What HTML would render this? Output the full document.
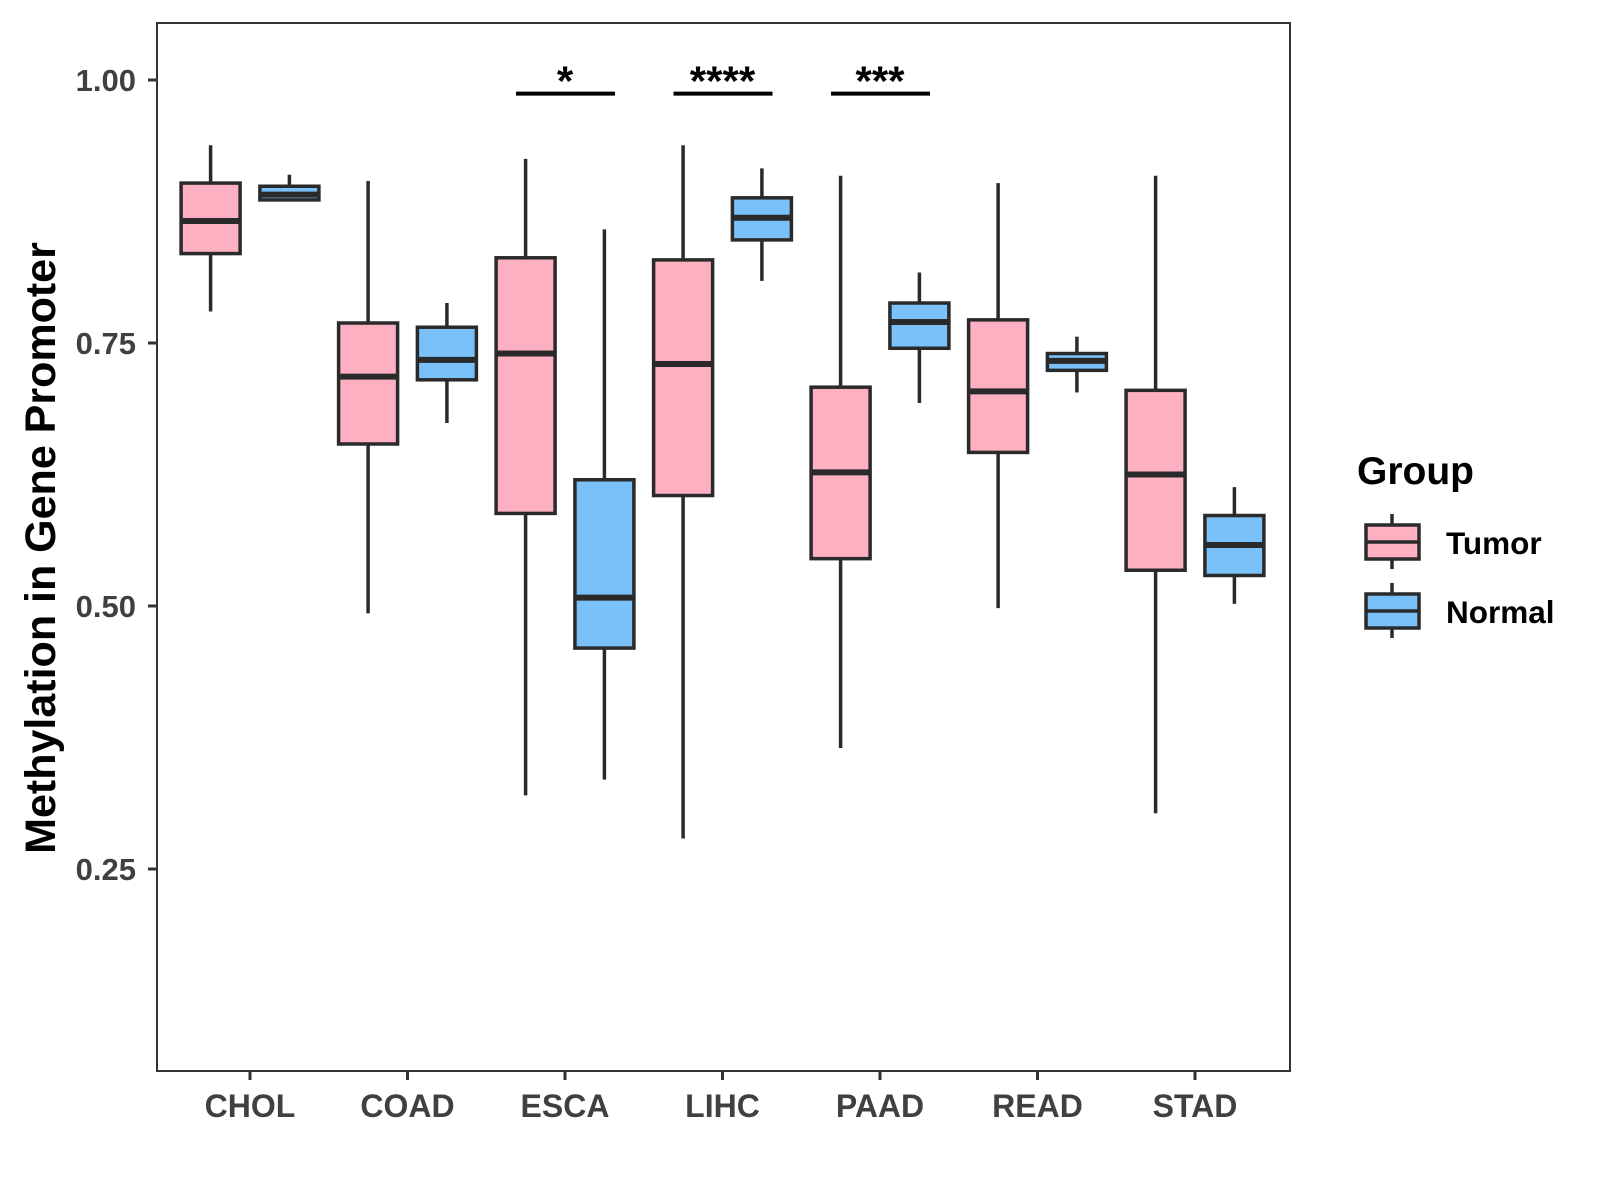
<!DOCTYPE html>
<html><head><meta charset="utf-8"><style>
html,body{margin:0;padding:0;background:#fff}
svg{display:block;font-family:"Liberation Sans",Arial,sans-serif}
</style></head><body>
<svg id="chart" width="1600" height="1200" viewBox="0 0 1600 1200" xmlns="http://www.w3.org/2000/svg">
<rect x="0" y="0" width="1600" height="1200" fill="#fff"/>
<g id="marks"></g>
<rect x="157" y="23" width="1133" height="1048" fill="none" stroke="#333" stroke-width="2"/>
<g id="axes"></g>
<text x="41" y="548" transform="rotate(-90 41 548)" text-anchor="middle" dominant-baseline="central" font-size="43" font-weight="bold" fill="#000">Methylation in Gene Promoter</text>
<g>
<text x="1357" y="484" font-size="39" font-weight="bold" fill="#000">Group</text>
<g>
<line x1="1392" y1="514" x2="1392" y2="569" stroke="#2a2a2a" stroke-width="3.5"/>
<rect x="1366" y="525" width="53" height="34" fill="#FDB0C2" stroke="#2a2a2a" stroke-width="3.5"/>
<line x1="1366" y1="542" x2="1419" y2="542" stroke="#2a2a2a" stroke-width="3.5"/>
<text x="1446" y="554" font-size="31.5" font-weight="bold" fill="#000">Tumor</text>
</g>
<g>
<line x1="1392" y1="583" x2="1392" y2="638" stroke="#2a2a2a" stroke-width="3.5"/>
<rect x="1366" y="594" width="53" height="34" fill="#79C1F8" stroke="#2a2a2a" stroke-width="3.5"/>
<line x1="1366" y1="611" x2="1419" y2="611" stroke="#2a2a2a" stroke-width="3.5"/>
<text x="1446" y="623" font-size="31.5" font-weight="bold" fill="#000">Normal</text>
</g>
</g>
</svg>
<script>
const categories = ["CHOL","COAD","ESCA","LIHC","PAAD","READ","STAD"];
// [lowerWhisker, Q1, median, Q3, upperWhisker]
const tumorStats = [
 [0.780,0.835,0.866,0.902,0.938],
 [0.493,0.654,0.718,0.769,0.904],
 [0.320,0.588,0.740,0.831,0.925],
 [0.279,0.605,0.730,0.829,0.938],
 [0.365,0.545,0.627,0.708,0.909],
 [0.498,0.646,0.704,0.772,0.902],
 [0.303,0.534,0.625,0.705,0.909]
];
const normalStats = [
 [0.886,0.886,0.891,0.899,0.910],
 [0.674,0.715,0.734,0.765,0.788],
 [0.335,0.460,0.508,0.620,0.858],
 [0.809,0.848,0.869,0.888,0.916],
 [0.693,0.745,0.770,0.788,0.817],
 [0.703,0.724,0.733,0.740,0.756],
 [0.502,0.529,0.558,0.586,0.613]
];
const yTicks = [0.25,0.50,0.75,1.00];
const yTickLabels = ["0.25","0.50","0.75","1.00"];
const sigCategories = ["ESCA","LIHC","PAAD"];
const sigLabels = ["*","****","***"];
const sigLevel = 0.987;

const NS="http://www.w3.org/2000/svg";
function yScale(v){return 80+(1-v)*1052;}
function xScale(i){return 250+i*157.5;}
function mk(tag,attrs,parent){const e=document.createElementNS(NS,tag);for(const k in attrs)e.setAttribute(k,attrs[k]);parent.appendChild(e);return e;}
const marks=document.getElementById('marks');
const axes=document.getElementById('axes');
const stroke="#2a2a2a";
function drawBox(cx,s,fill,name){
  const g=mk('g',{},marks);
  
  
  const w=59;
  mk('line',{x1:cx,x2:cx,y1:yScale(s[4]),y2:yScale(s[0]),stroke:stroke,'stroke-width':3.5},g);
  mk('rect',{x:cx-w/2,y:yScale(s[3]),width:w,height:Math.max(yScale(s[1])-yScale(s[3]),0.5),fill:fill,stroke:stroke,'stroke-width':3.5},g);
  mk('line',{x1:cx-w/2,x2:cx+w/2,y1:yScale(s[2]),y2:yScale(s[2]),stroke:stroke,'stroke-width':6},g);
}
categories.forEach((c,i)=>{
  drawBox(xScale(i)-39.4,tumorStats[i],"#FDB0C2","box-tumor-"+c.toLowerCase());
  drawBox(xScale(i)+39.4,normalStats[i],"#79C1F8","box-normal-"+c.toLowerCase());
  const t=mk('line',{x1:xScale(i),x2:xScale(i),y1:1071,y2:1080,stroke:"#333",'stroke-width':3},axes);
  
  
  const l=mk('text',{x:xScale(i),y:1117,'text-anchor':'middle','font-size':32,'font-weight':'bold',fill:'#404040'},axes);
  l.textContent=c;
  
  
});
yTicks.forEach((v,i)=>{
  const t=mk('line',{x1:148,x2:157,y1:yScale(v),y2:yScale(v),stroke:"#333",'stroke-width':3},axes);
  
  
  const l=mk('text',{x:136,y:yScale(v)+11,'text-anchor':'end','font-size':31,'font-weight':'bold',fill:'#404040'},axes);
  l.textContent=yTickLabels[i];
  
  
});
sigCategories.forEach((c,k)=>{
  const i=categories.indexOf(c);
  const ln=mk('line',{x1:xScale(i)-49,x2:xScale(i)+50,y1:yScale(sigLevel),y2:yScale(sigLevel),stroke:'#000','stroke-width':4},marks);
  
  
  const tx=mk('text',{x:xScale(i),y:yScale(sigLevel)+2,'text-anchor':'middle','font-size':42,'font-weight':'bold',fill:'#000'},marks);
  tx.textContent=sigLabels[k];
  
  
});
</script>
</body></html>
